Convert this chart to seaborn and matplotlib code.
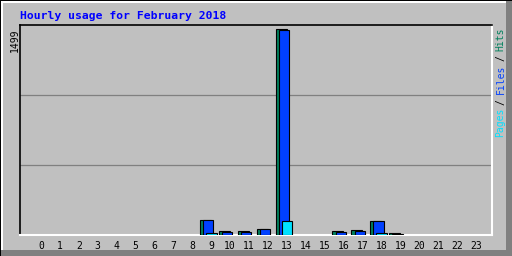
import numpy as np
import pandas as pd
import matplotlib
matplotlib.use("Agg")
import matplotlib.pyplot as plt
from matplotlib.patches import Rectangle
import seaborn as sns

title = "Hourly usage for February 2018"
hours = list(range(24))
hits  = [0, 0, 0, 0, 0, 0, 0, 0, 0, 110, 28, 28, 45, 1499, 0, 0, 28, 35, 102, 12, 0, 0, 0, 0]
files = [0, 0, 0, 0, 0, 0, 0, 0, 0, 108, 25, 25, 42, 1495, 0, 0, 25, 32, 100, 10, 0, 0, 0, 0]
pages = [0, 0, 0, 0, 0, 0, 0, 0, 0, 15, 0, 0, 0, 102, 0, 0, 0, 0, 15, 0, 0, 0, 0, 0]
max_label = "1499"

BG = "#C0C0C0"
C_HITS = "#00805C"
C_FILES = "#0040FF"
C_PAGES = "#00E0FF"

sns.set_theme(style="white")
plt.rcParams['font.family'] = ['DejaVu Sans Mono', 'DejaVu Sans']

W, H = 512, 256
fig = plt.figure(figsize=(W / 100, H / 100), dpi=100)
fig.patch.set_facecolor(BG)

# frame/bevel in pixel coords
bg_ax = fig.add_axes([0, 0, 1, 1])
bg_ax.set_xlim(0, W)
bg_ax.set_ylim(H, 0)
bg_ax.axis("off")
bg_ax.add_patch(Rectangle((0, 0), W, H, facecolor=BG, edgecolor="none"))
bg_ax.add_patch(Rectangle((W - 6, 0), 6, H, facecolor="#808080", edgecolor="none"))
bg_ax.add_patch(Rectangle((0, H - 6), W, 6, facecolor="#808080", edgecolor="none"))
bg_ax.add_patch(Rectangle((0, 0), W, 1, facecolor="black", edgecolor="none"))
bg_ax.add_patch(Rectangle((0, 0), 1, H, facecolor="black", edgecolor="none"))
bg_ax.add_patch(Rectangle((1, 1), W - 7, 1.5, facecolor="white", edgecolor="none"))
bg_ax.add_patch(Rectangle((1, 1), 1.5, H - 7, facecolor="white", edgecolor="none"))

# plot area
L, R, T, B = 20, 491.5, 25, 235
ax = fig.add_axes([L / W, 1 - B / H, (R - L) / W, (B - T) / H])
ax.set_facecolor(BG)

ytop = 1499 * (B - T) / (B - 29)

def draw(vals, color, offset, width):
    y = np.array(vals, float)
    y[y == 0] = np.nan
    df = pd.DataFrame({"x": np.array(hours, float) + offset, "y": y})
    sns.barplot(data=df, x="x", y="y", native_scale=True, width=width,
                color=color, saturation=1, edgecolor="black", linewidth=0.8,
                ax=ax, zorder=3)

draw(hits, C_HITS, -0.30, 0.58)
draw(files, C_FILES, -0.15, 0.54)
draw(pages, C_PAGES, 0.01, 0.56)

ax.set_xlim(-1.11, 23.82)
ax.set_ylim(0, ytop)
ax.set_xticks(hours)
ax.set_xticklabels([str(h) for h in hours], fontsize=7, color="black")
ax.tick_params(axis="x", length=0, pad=4)
ax.set_yticks([ytop / 3, 2 * ytop / 3])
ax.set_yticklabels([])
ax.tick_params(axis="y", length=0)
ax.grid(axis="y", color="#808080", linewidth=0.9, zorder=1)
ax.set_axisbelow(True)
ax.set_xlabel("")
ax.set_ylabel("")
for s in ["left", "top"]:
    ax.spines[s].set_color("black")
    ax.spines[s].set_linewidth(1.2)
for s in ["right", "bottom"]:
    ax.spines[s].set_color("white")
    ax.spines[s].set_linewidth(1.5)

fig.text(20 / W, 1 - 16 / H, title, color="#0000FF", fontsize=8.2,
         fontweight="bold", ha="left", va="center")
fig.text(14.5 / W, 1 - 28 / H, max_label, rotation=90, fontsize=7,
         color="black", ha="center", va="top")

# right vertical legend
cw = 5.4
y0 = 137
pieces = [("Pages", C_PAGES, 0), ("/", "black", 6), ("Files", C_FILES, 8),
          ("/", "black", 14), ("Hits", C_HITS, 16)]
for txt, col, idx in pieces:
    fig.text(500.5 / W, 1 - (y0 - idx * cw) / H, txt, rotation=90, fontsize=7,
             color=col, ha="center", va="bottom")

fig.savefig("out.png", dpi=100, facecolor=BG)
